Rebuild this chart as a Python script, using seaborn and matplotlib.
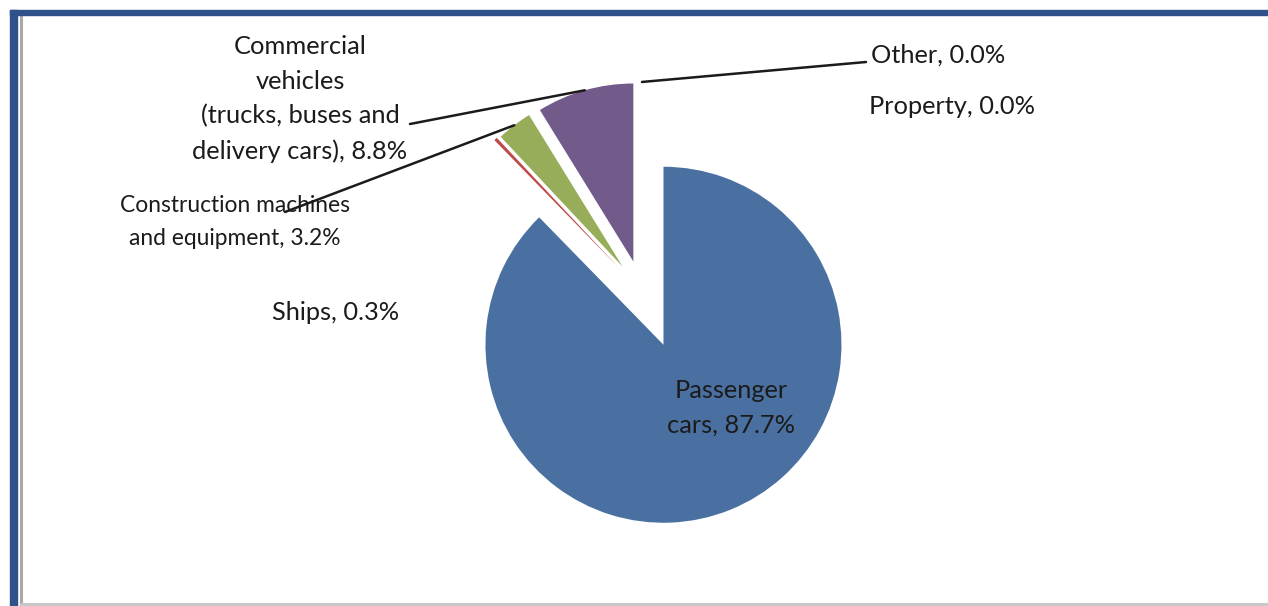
import numpy as np
import matplotlib
matplotlib.use("Agg")
import matplotlib.pyplot as plt
from matplotlib.patches import Rectangle
from matplotlib.lines import Line2D
import seaborn as sns

# Shares of the insured portfolio by object type (percent)
categories = ["Passenger\ncars", "Ships", "Construction machines\nand equipment",
              "Commercial\nvehicles\n(trucks, buses and\ndelivery cars)", "Other", "Property"]
shares = [87.7, 0.3, 3.2, 8.8, 0.0, 0.0]
colors = ["#4A70A1", "#BE4B48", "#97AD5A", "#725A8B", "#4BACC6", "#F79646"]
explode = [0.32, 0.19, 0.18, 0.178, 0.18, 0.18]

sns.set_theme(style="white")
plt.rcParams["font.family"] = ["Lato", "DejaVu Sans"]

W, H, DPI = 1268, 606, 100
fig = plt.figure(figsize=(W / DPI, H / DPI), dpi=DPI)
ax = fig.add_axes([0, 0, 1, 1])

# pie centre and radius in pixels, used to lay the axes out
CX, CY, R = 642.0, 292.0, 178.0


def px(x, y):
    """Pixel position (origin top-left) -> data coordinates of the pie axes."""
    return (x - CX) / R, (CY - y) / R


wedges, _ = ax.pie(shares, colors=colors, explode=explode, startangle=90,
                   counterclock=False, radius=1.0,
                   wedgeprops=dict(linewidth=0))
ax.set_xlim(-CX / R, (W - CX) / R)
ax.set_ylim(-(H - CY) / R, CY / R)
ax.set_aspect("equal", adjustable="box")
ax.axis("off")

txt = "#1b1b1b"
fs = 18.3


def label(i):
    return f"{categories[i]}, {shares[i]:.1f}%"


def arc_mid(w):
    th = np.deg2rad((w.theta1 + w.theta2) / 2)
    cx, cy = w.center
    return cx + w.r * np.cos(th), cy + w.r * np.sin(th)


# slice labels
ax.text(*px(731, 408), label(0), ha="center", va="center", fontsize=fs,
        color=txt, linespacing=1.6)
ax.text(*px(336, 313), label(1), ha="center", va="center", fontsize=fs, color=txt)
ax.text(*px(235, 222), label(2), ha="center", va="center", fontsize=16.4,
        color=txt, linespacing=1.7)
ax.text(*px(300, 99), label(3), ha="center", va="center", fontsize=fs,
        color=txt, linespacing=1.6)
ax.text(*px(871, 55), label(4), ha="left", va="center", fontsize=fs, color=txt)
ax.text(*px(869, 107), label(5), ha="left", va="center", fontsize=fs, color=txt)

# leader lines from the outer arc of the slice to its label
leaders = [(2, (285, 212)), (3, (410, 124)), (4, (866, 62))]
for i, (lx, ly) in leaders:
    x0, y0 = arc_mid(wedges[i])
    x1, y1 = px(lx, ly)
    ax.plot([x0, x1], [y0, y1], color=txt, lw=1.8, solid_capstyle="round")

# chart frame
fig.patches.append(Rectangle((10 / W, 1 - 15 / H), 1 - 10 / W, 5 / H,
                             transform=fig.transFigure, color="#2F528A", zorder=5))
fig.patches.append(Rectangle((10 / W, 0), 7 / W, 1 - 10 / H,
                             transform=fig.transFigure, color="#2F528A", zorder=5))
fig.lines.append(Line2D([21 / W, 21 / W], [0, 1 - 15 / H], transform=fig.transFigure,
                        color="#A9A9A9", lw=2.2, zorder=5))
fig.lines.append(Line2D([21 / W, 1], [2.5 / H, 2.5 / H], transform=fig.transFigure,
                        color="#C8C8C8", lw=2.2, zorder=5))

fig.savefig("out.png", dpi=DPI, facecolor="white")
